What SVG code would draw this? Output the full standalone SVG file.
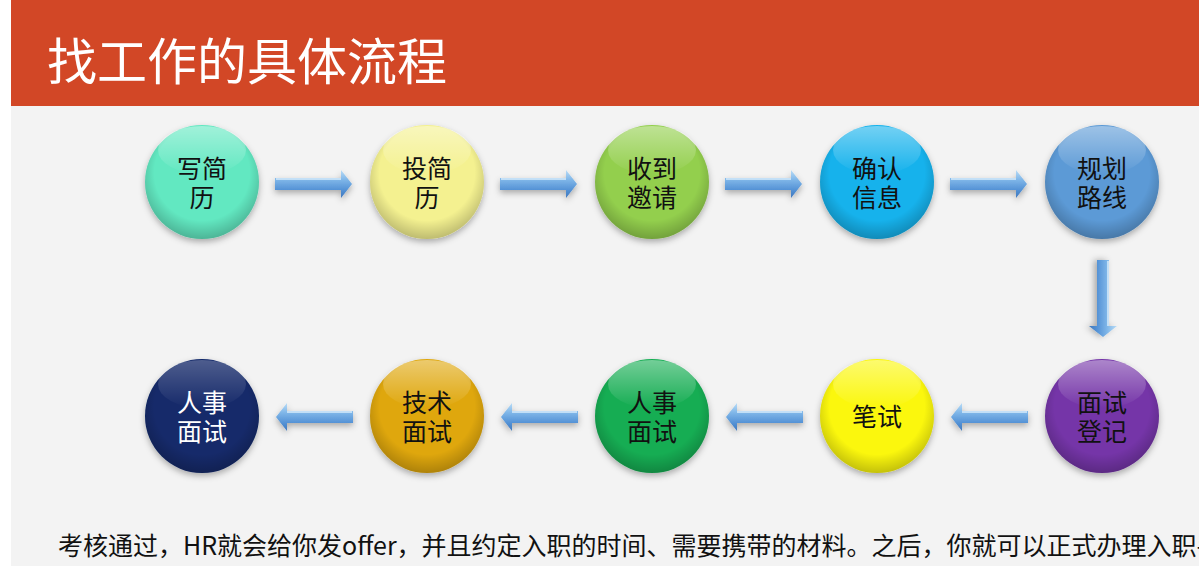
<svg xmlns="http://www.w3.org/2000/svg" xmlns:xlink="http://www.w3.org/1999/xlink" width="1199" height="566" viewBox="0 0 1199 566">
<defs>
<style>
.lbl{font-family:"Noto Sans CJK SC","Noto Sans",sans-serif;font-size:25px;fill:#111;text-anchor:middle}
.lblw{fill:#fff}
.title{font-family:"Noto Sans CJK SC","Noto Sans",sans-serif;font-size:50px;fill:#fff}
.note{font-family:"Noto Sans CJK SC","Noto Sans",sans-serif;font-size:25px;fill:#111}
.shade{fill:url(#shade)}
.gloss{fill:url(#gloss)}
</style>
<radialGradient id="shade" cx="50%" cy="42%" r="58%">
<stop offset="0.72" stop-color="#000" stop-opacity="0"/>
<stop offset="1" stop-color="#000" stop-opacity="0.22"/>
</radialGradient>
<linearGradient id="gloss" x1="0" y1="0" x2="0" y2="1">
<stop offset="0" stop-color="#fff" stop-opacity="0.4"/>
<stop offset="1" stop-color="#fff" stop-opacity="0"/>
</linearGradient>
<linearGradient id="arrowFill" x1="0" y1="0" x2="0" y2="1">
<stop offset="0" stop-color="#b9dcf7"/>
<stop offset="0.35" stop-color="#7fb6e8"/>
<stop offset="0.7" stop-color="#5593d6"/>
<stop offset="1" stop-color="#3f78bd"/>
</linearGradient>
<filter id="sh" x="-20%" y="-20%" width="140%" height="150%">
<feDropShadow dx="0" dy="3" stdDeviation="3" flood-color="#000" flood-opacity="0.3"/>
</filter>
<g id="arrow">
<path d="M0,-6 L66,-6 L66,-14 L77,0 L66,14 L66,6 L0,6 Z" fill="url(#arrowFill)" filter="url(#sh)"/>
<path d="M1,-5 L66,-5" stroke="#d8ecfb" stroke-width="1.5" fill="none"/>
</g>
</defs>

<rect x="0" y="0" width="1199" height="566" fill="#ffffff"/>
<rect x="11" y="0" width="1188" height="566" fill="#f3f3f3"/>
<g id="header">
<rect x="11" y="0" width="1188" height="106" fill="#d24726"/>
<text class="title" x="47" y="80">找工作的具体流程</text>
</g>

<g id="connectors">
<use xlink:href="#arrow" transform="translate(275,184)"/>
<use xlink:href="#arrow" transform="translate(500,184)"/>
<use xlink:href="#arrow" transform="translate(725,184)"/>
<use xlink:href="#arrow" transform="translate(950,184)"/>
<use xlink:href="#arrow" transform="translate(1103,260) rotate(90)"/>
<use xlink:href="#arrow" transform="translate(1028,417) scale(-1,1)"/>
<use xlink:href="#arrow" transform="translate(803,417) scale(-1,1)"/>
<use xlink:href="#arrow" transform="translate(578,417) scale(-1,1)"/>
<use xlink:href="#arrow" transform="translate(353,417) scale(-1,1)"/>
</g>

<g id="n1">
<circle cx="202" cy="182" r="57" fill="#62e8c1" filter="url(#sh)"/>
<circle cx="202" cy="182" r="57" class="shade"/>
<ellipse cx="202" cy="150" rx="44" ry="24" class="gloss"/>
<text class="lbl" x="202" y="178">写简<tspan x="202" dy="29">历</tspan></text>
</g>
<g id="n2">
<circle cx="427" cy="182" r="57" fill="#f4f190" filter="url(#sh)"/>
<circle cx="427" cy="182" r="57" class="shade"/>
<ellipse cx="427" cy="150" rx="44" ry="24" class="gloss"/>
<text class="lbl" x="427" y="178">投简<tspan x="427" dy="29">历</tspan></text>
</g>
<g id="n3">
<circle cx="652" cy="182" r="57" fill="#93cf4e" filter="url(#sh)"/>
<circle cx="652" cy="182" r="57" class="shade"/>
<ellipse cx="652" cy="150" rx="44" ry="24" class="gloss"/>
<text class="lbl" x="652" y="178">收到<tspan x="652" dy="29">邀请</tspan></text>
</g>
<g id="n4">
<circle cx="877" cy="182" r="57" fill="#14b2ec" filter="url(#sh)"/>
<circle cx="877" cy="182" r="57" class="shade"/>
<ellipse cx="877" cy="150" rx="44" ry="24" class="gloss"/>
<text class="lbl" x="877" y="178">确认<tspan x="877" dy="29">信息</tspan></text>
</g>
<g id="n5">
<circle cx="1102" cy="182" r="57" fill="#5c9ad6" filter="url(#sh)"/>
<circle cx="1102" cy="182" r="57" class="shade"/>
<ellipse cx="1102" cy="150" rx="44" ry="24" class="gloss"/>
<text class="lbl" x="1102" y="178">规划<tspan x="1102" dy="29">路线</tspan></text>
</g>
<g id="n6">
<circle cx="1102" cy="416" r="57" fill="#7434a8" filter="url(#sh)"/>
<circle cx="1102" cy="416" r="57" class="shade"/>
<ellipse cx="1102" cy="384" rx="44" ry="24" class="gloss"/>
<text class="lbl" x="1102" y="412">面试<tspan x="1102" dy="29">登记</tspan></text>
</g>
<g id="n7">
<circle cx="877" cy="416" r="57" fill="#fbf70e" filter="url(#sh)"/>
<circle cx="877" cy="416" r="57" class="shade"/>
<ellipse cx="877" cy="384" rx="44" ry="24" class="gloss"/>
<text class="lbl" x="877" y="426">笔试</text>
</g>
<g id="n8">
<circle cx="652" cy="416" r="57" fill="#14ad52" filter="url(#sh)"/>
<circle cx="652" cy="416" r="57" class="shade"/>
<ellipse cx="652" cy="384" rx="44" ry="24" class="gloss"/>
<text class="lbl" x="652" y="412">人事<tspan x="652" dy="29">面试</tspan></text>
</g>
<g id="n9">
<circle cx="427" cy="416" r="57" fill="#dfa70a" filter="url(#sh)"/>
<circle cx="427" cy="416" r="57" class="shade"/>
<ellipse cx="427" cy="384" rx="44" ry="24" class="gloss"/>
<text class="lbl" x="427" y="412">技术<tspan x="427" dy="29">面试</tspan></text>
</g>
<g id="n10">
<circle cx="202" cy="416" r="57" fill="#12296a" filter="url(#sh)"/>
<circle cx="202" cy="416" r="57" class="shade"/>
<ellipse cx="202" cy="384" rx="44" ry="24" class="gloss" opacity="0.6"/>
<text class="lbl lblw" x="202" y="412">人事<tspan x="202" dy="29">面试</tspan></text>
</g>

<text class="note" x="58" y="555">考核通过，HR就会给你发offer，并且约定入职的时间、需要携带的材料。之后，你就可以正式办理入职手续</text>
</svg>
